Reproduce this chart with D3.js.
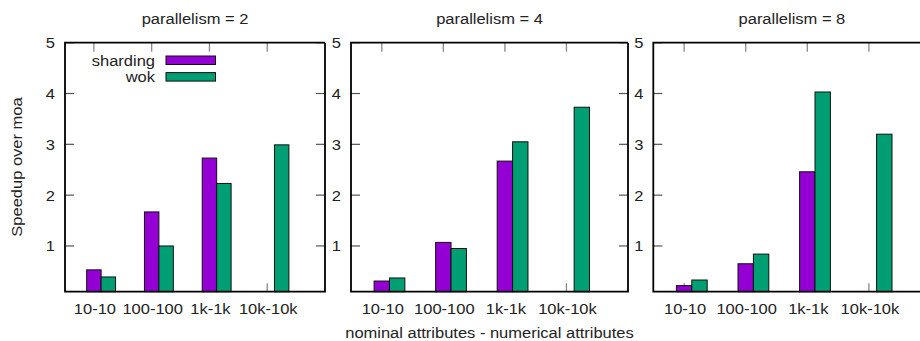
<!DOCTYPE html>
<html>
<head>
<meta charset="utf-8">
<script src="https://cdn.jsdelivr.net/npm/d3@7"></script>
<style>
  body { margin: 0; background: #fff; }
  text { font-family: "Liberation Sans", Arial, sans-serif; font-size: 15px; fill: #222; }
</style>
</head>
<body>
<script>
// data
var categories = ["10-10", "100-100", "1k-1k", "10k-10k"];
var seriesNames = ["sharding", "wok"];
var panelTitles = ["parallelism = 2", "parallelism = 4", "parallelism = 8"];
var shardingValues = [
  [0.53, 1.67, 2.73, null],
  [0.31, 1.07, 2.67, null],
  [0.22, 0.65, 2.46, null]
];
var wokValues = [
  [0.39, 1.00, 2.23, 2.99],
  [0.37, 0.95, 3.05, 3.73],
  [0.33, 0.84, 4.03, 3.20]
];
var yTicks = [1, 2, 3, 4, 5];

var colors = {sharding: "#9400d3", wok: "#009e73"};

var width = 920, height = 341;
var plotTop = 42.7, plotBottom = 291.7;
// left / right of each plot frame (third panel runs off the image)
var panels = [
  {left: 65, right: 325},
  {left: 351, right: 628},
  {left: 653.3, right: 930.5}
];

var svg = d3.select("body").append("svg")
    .attr("width", width)
    .attr("height", height);

var y = d3.scaleLinear().domain([0.1, 5]).range([plotBottom, plotTop]);

// text is a bit wider than plain Arial in the original
function stretched(sel, x, yy) {
  return sel.attr("transform", "translate(" + x + "," + yy + ") scale(1.1,1)");
}

panels.forEach(function(p, pi) {
  var x = d3.scaleLinear().domain([-0.5, 4]).range([p.left, p.right]);
  var barW = x(0.25) - x(0);
  var g = svg.append("g");

  // x ticks (bottom + mirrored top), drawn under the bars
  categories.forEach(function(c, i) {
    g.append("line")
      .attr("x1", x(i)).attr("x2", x(i))
      .attr("y1", plotBottom).attr("y2", plotBottom - 8.5)
      .attr("stroke", "#888").attr("stroke-width", 1.3);
    g.append("line")
      .attr("x1", x(i)).attr("x2", x(i))
      .attr("y1", plotTop).attr("y2", plotTop + 9)
      .attr("stroke", "#888").attr("stroke-width", 1.3);
    stretched(g.append("text"), x(i) + 1, 314)
      .attr("text-anchor", "middle")
      .text(c);
  });

  // y ticks left and mirrored right
  yTicks.forEach(function(t) {
    g.append("line")
      .attr("x1", p.left).attr("x2", p.left + 9)
      .attr("y1", y(t)).attr("y2", y(t))
      .attr("stroke", "#555").attr("stroke-width", 1.2);
    g.append("line")
      .attr("x1", p.right).attr("x2", p.right - 9)
      .attr("y1", y(t)).attr("y2", y(t))
      .attr("stroke", "#555").attr("stroke-width", 1.2);
    stretched(g.append("text"), p.left - 10, y(t) + 5.5)
      .attr("text-anchor", "end")
      .text(t);
  });

  var rows = [];
  categories.forEach(function(c, i) {
    rows.push({i: i, s: "sharding", v: shardingValues[pi][i], off: 0});
    rows.push({i: i, s: "wok", v: wokValues[pi][i], off: 0.25});
  });

  g.selectAll("rect.bar")
    .data(rows.filter(function(d) { return d.v != null; }))
    .enter().append("rect")
    .attr("class", "bar")
    .attr("x", function(d) { return x(d.i + d.off) - barW / 2; })
    .attr("y", function(d) { return y(d.v); })
    .attr("width", barW)
    .attr("height", function(d) { return plotBottom - y(d.v); })
    .attr("fill", function(d) { return colors[d.s]; })
    .attr("stroke", "#111")
    .attr("stroke-width", 1);

  // frame
  g.append("path")
    .attr("d", "M" + p.right + "," + plotTop + "H" + p.left + "V" + plotBottom + "H" + p.right + "V" + plotTop)
    .attr("fill", "none")
    .attr("stroke", "#000")
    .attr("stroke-width", 1.8);

  stretched(g.append("text"), (p.left + p.right) / 2, 24)
    .attr("text-anchor", "middle")
    .text(panelTitles[pi]);
});

// legend in the first panel
seriesNames.forEach(function(s, i) {
  var ly = 56 + i * 16.6;
  stretched(svg.append("text"), 155, ly + 9.7)
    .attr("text-anchor", "end")
    .text(s);
  svg.append("rect")
    .attr("x", 166).attr("y", ly)
    .attr("width", 49.5).attr("height", 8.5)
    .attr("fill", colors[s])
    .attr("stroke", "#111")
    .attr("stroke-width", 1);
});

// axis titles
svg.append("text")
  .attr("text-anchor", "middle")
  .attr("transform", "translate(22,167) rotate(-90) scale(1.1,1)")
  .text("Speedup over moa");

stretched(svg.append("text"), 489.5, 338)
  .attr("text-anchor", "middle")
  .text("nominal attributes - numerical attributes");
</script>
</body>
</html>
